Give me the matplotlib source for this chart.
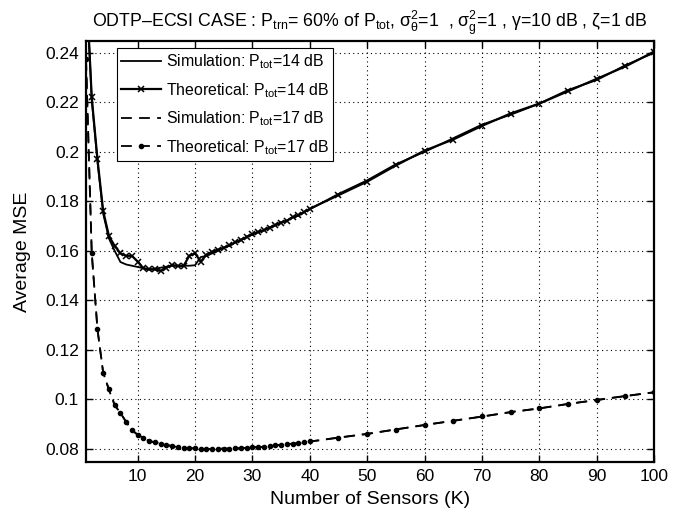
import matplotlib
matplotlib.use("Agg")
import matplotlib.pyplot as plt

plt.rcParams['font.family'] = ['Liberation Sans', 'DejaVu Sans']
plt.rcParams['mathtext.fontset'] = 'custom'
plt.rcParams['mathtext.rm'] = 'Liberation Sans'
plt.rcParams['mathtext.it'] = 'Liberation Sans'
plt.rcParams['mathtext.sf'] = 'Liberation Sans'

K = [1, 2, 3, 4, 5, 6, 7, 8, 9, 10, 11, 12, 13, 14, 15, 16, 17, 18, 19, 20,
     21, 22, 23, 24, 25, 26, 27, 28, 29, 30, 31, 32, 33, 34, 35, 36, 37, 38, 39, 40,
     45, 50, 55, 60, 65, 70, 75, 80, 85, 90, 95, 100]

theo_14 = [0.270, 0.222, 0.197, 0.176, 0.166, 0.162, 0.159, 0.158, 0.158, 0.1557,
           0.1530, 0.1525, 0.1525, 0.1519, 0.1532, 0.1543, 0.1539, 0.1539, 0.1580, 0.1590,
           0.1557, 0.1584, 0.1597, 0.1605, 0.1612, 0.1622, 0.1634, 0.1645, 0.1655, 0.1668,
           0.1675, 0.1684, 0.1693, 0.1705, 0.1714, 0.1722, 0.1735, 0.1744, 0.1756, 0.1770,
           0.1825, 0.1880, 0.1945, 0.2005, 0.2050, 0.2105, 0.2155, 0.2195, 0.2245, 0.2295,
           0.2345, 0.2405]

sim_14 = [0.270, 0.221, 0.196, 0.175, 0.165, 0.160, 0.1555, 0.1545, 0.1540, 0.1535,
          0.1530, 0.1525, 0.1528, 0.1532, 0.1536, 0.1540, 0.1540, 0.1540, 0.1540, 0.1542,
          0.1575, 0.1580, 0.1590, 0.1600, 0.1614, 0.1620, 0.1636, 0.1642, 0.1658, 0.1665,
          0.1678, 0.1682, 0.1696, 0.1702, 0.1716, 0.1720, 0.1738, 0.1742, 0.1758, 0.1768,
          0.1830, 0.1885, 0.1950, 0.2000, 0.2055, 0.2110, 0.2150, 0.2195, 0.2250, 0.2290,
          0.2350, 0.2400]

theo_17 = [0.2376, 0.1593, 0.1284, 0.1106, 0.1041, 0.0978, 0.0944, 0.0910, 0.0875, 0.0858,
           0.0843, 0.0832, 0.0826, 0.0821, 0.0816, 0.0811, 0.0807, 0.0804, 0.0803, 0.0802,
           0.0801, 0.0799, 0.0799, 0.0800, 0.0801, 0.0801, 0.0802, 0.0803, 0.0804, 0.0806,
           0.0807, 0.0809, 0.0811, 0.0814, 0.0816, 0.0818, 0.0821, 0.0823, 0.0826, 0.0830,
           0.0845, 0.0861, 0.0878, 0.0897, 0.0913, 0.0931, 0.0948, 0.0964, 0.0981, 0.0998,
           0.1013, 0.1029]

sim_17 = [0.2370, 0.1590, 0.1282, 0.1108, 0.1038, 0.0976, 0.0946, 0.0908, 0.0877, 0.0856,
          0.0845, 0.0830, 0.0828, 0.0820, 0.0818, 0.0810, 0.0808, 0.0803, 0.0804, 0.0801,
          0.0802, 0.0798, 0.0800, 0.0799, 0.0802, 0.0800, 0.0803, 0.0802, 0.0805, 0.0805,
          0.0808, 0.0808, 0.0812, 0.0813, 0.0817, 0.0817, 0.0822, 0.0822, 0.0827, 0.0829,
          0.0846, 0.0860, 0.0879, 0.0896, 0.0914, 0.0930, 0.0949, 0.0963, 0.0982, 0.0997,
          0.1014, 0.1028]

labels = ['Simulation: P$_{\\mathrm{tot}}$=14 dB',
          'Theoretical: P$_{\\mathrm{tot}}$=14 dB',
          'Simulation: P$_{\\mathrm{tot}}$=17 dB',
          'Theoretical: P$_{\\mathrm{tot}}$=17 dB']

title = ('ODTP\u2013ECSI CASE : P$_{\\mathrm{trn}}$= 60% of P$_{\\mathrm{tot}}$, '
         '$\\mathrm{\\sigma}^2_{\\mathrm{\\theta}}$=1  , $\\mathrm{\\sigma}^2_{\\mathrm{g}}$=1 , '
         '$\\mathrm{\\gamma}$=10 dB , $\\mathrm{\\zeta}$=1 dB')

fig = plt.figure(figsize=(6.9, 5.14), dpi=100)
ax = fig.add_axes([86/690, 52/514, 568/690, 421/514])

ax.plot(K, sim_14, '-', color='black', lw=1.3, label=labels[0])
ax.plot(K, theo_14, '-', color='black', lw=1.6, marker='x', ms=4, mew=1.1, label=labels[1])
ax.plot(K, sim_17, '--', color='black', lw=1.3, dashes=(6, 4), label=labels[2])
ax.plot(K, theo_17, '--', color='black', lw=1.3, dashes=(6, 4), marker='.', ms=6, label=labels[3])

ax.set_xlim(1, 100)
ax.set_ylim(0.0747, 0.2448)
ax.set_xticks([10, 20, 30, 40, 50, 60, 70, 80, 90, 100])
ax.set_yticks([0.08, 0.1, 0.12, 0.14, 0.16, 0.18, 0.2, 0.22, 0.24])
ax.set_yticklabels(['0.08', '0.1', '0.12', '0.14', '0.16', '0.18', '0.2', '0.22', '0.24'])
ax.grid(True, color='black', linestyle=(0, (1, 3)), linewidth=0.8)
ax.tick_params(direction='in', top=True, right=True, length=5, width=1, labelsize=12.5, pad=5)
for s in ax.spines.values():
    s.set_linewidth(1.6)

ax.set_xlabel('Number of Sensors (K)', fontsize=14, labelpad=5)
ax.set_ylabel('Average MSE', fontsize=14, labelpad=10)
ax.set_title(title, fontsize=12.8, pad=10)

leg = ax.legend(loc='upper left', bbox_to_anchor=(0.054, 0.984), fontsize=11.4,
                fancybox=False, edgecolor='black', framealpha=1, handlelength=2.5,
                borderpad=0.3, labelspacing=0.62, handletextpad=0.3, borderaxespad=0)
leg.get_frame().set_linewidth(0.8)

fig.savefig('out.png', dpi=100)
